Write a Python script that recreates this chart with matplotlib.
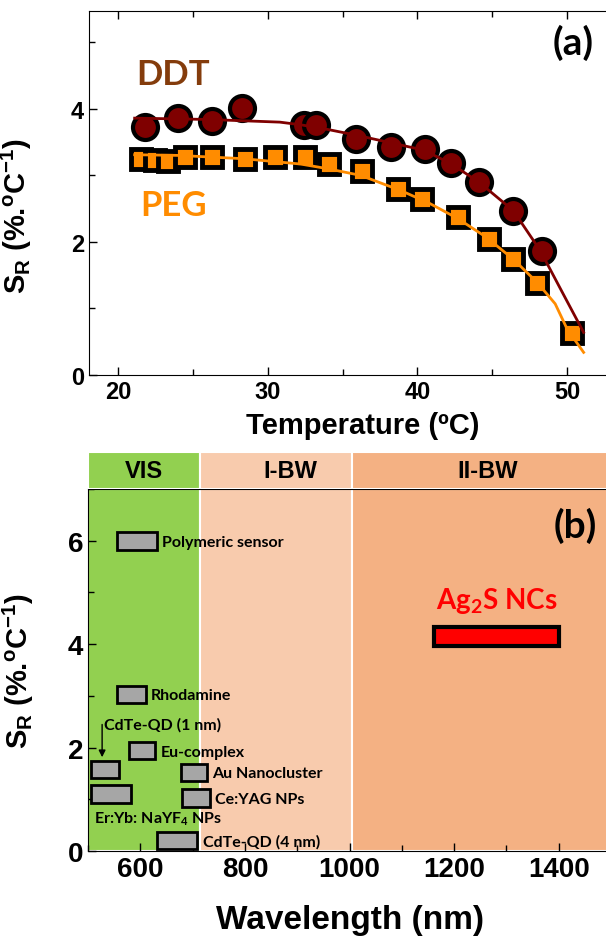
import matplotlib
matplotlib.use('Agg')
import matplotlib.pyplot as plt
from matplotlib.patches import Rectangle
from matplotlib.ticker import MultipleLocator

# ---------------------------------------------------------------- data (a)
ddt_T = [21.8, 24.0, 26.3, 28.3, 32.4, 33.25, 35.9, 38.25, 40.5, 42.25, 44.1, 46.4, 48.3]
ddt_S = [3.72, 3.86, 3.81, 4.01, 3.75, 3.76, 3.55, 3.42, 3.40, 3.18, 2.90, 2.47, 1.86]

peg_T = [21.55, 22.45, 23.35, 24.47, 26.3, 28.5, 30.45, 32.45, 34.07, 36.27,
         38.7, 40.27, 42.7, 44.8, 46.4, 48.0, 50.3]
peg_S = [3.25, 3.23, 3.22, 3.28, 3.28, 3.25, 3.28, 3.27, 3.17, 3.06,
         2.79, 2.65, 2.37, 2.04, 1.75, 1.38, 0.63]

ddt_fit_T = [21.1, 26.0, 30.8, 32.2, 34.0, 36.0, 38.0, 40.4, 42.2, 44.1, 46.4, 48.2, 49.8, 51.1]
ddt_fit_S = [3.86, 3.84, 3.80, 3.76, 3.69, 3.60, 3.50, 3.38, 3.18, 2.90, 2.47, 1.87, 1.19, 0.64]

peg_fit_T = [21.1, 24.0, 28.4, 32.2, 34.0, 36.2, 38.9, 40.8, 42.7, 44.6, 46.4, 48.0, 49.2, 50.0, 51.1]
peg_fit_S = [3.31, 3.30, 3.25, 3.17, 3.10, 3.00, 2.77, 2.58, 2.35, 2.07, 1.74, 1.39, 1.07, 0.69, 0.34]

# ---------------------------------------------------------------- data (b)
band_edges = [500, 715, 1004, 1500]
band_names = ['VIS', 'I-BW', 'II-BW']
band_label_x = [607, 887, 1265]

box_names = ['Polymeric sensor', 'Rhodamine', 'Eu-complex', '', '',
             'Au Nanocluster', 'Ce:YAG NPs', 'CdTe-QD (4 nm)']
box_lo = [556, 556, 578, 506, 506, 677, 680, 631]
box_hi = [631, 610, 629, 560, 582, 728, 733, 709]
box_S = [6.0, 3.03, 1.94, 1.58, 1.10, 1.52, 1.03, 0.20]

ag2s_lo, ag2s_hi, ag2s_S = 1162, 1401, 4.15

plt.rcParams['font.weight'] = 'bold'
plt.rcParams['axes.labelweight'] = 'bold'
plt.rcParams['mathtext.fontset'] = 'custom'
plt.rcParams['mathtext.rm'] = 'Liberation Sans:bold'
plt.rcParams['mathtext.bf'] = 'Liberation Sans:bold'
plt.rcParams['mathtext.default'] = 'bf'

ARIAL = ['Liberation Sans', 'DejaVu Sans']
NARROW = ['Liberation Sans Narrow', 'Liberation Sans', 'DejaVu Sans']
CALIBRI = ['Lato', 'DejaVu Sans']

W, H = 606, 945
fig = plt.figure(figsize=(W / 100, H / 100), dpi=100)

ylab = r'S$_\mathbf{R}$ (%.$^\mathbf{o}$C$^\mathbf{-1}$)'

# ---------------------------------------------------------------- panel (a)
ax = fig.add_axes([89 / W, 1 - 376 / H, (636 - 89) / W, (376 - 12) / H])
ax.plot(ddt_T, ddt_S, 'o', ms=18, mfc='#7f0000', mec='black', mew=3, zorder=3)
ax.plot(peg_T, peg_S, 's', ms=15, mfc='#ff8c00', mec='black', mew=3.5, zorder=3)
ax.plot(ddt_fit_T, ddt_fit_S, '-', color='#7f0000', lw=2, zorder=4)
ax.plot(peg_fit_T, peg_fit_S, '-', color='#ff8c00', lw=2, zorder=4)

ax.set_xlim(18.05, 54.6)
ax.set_ylim(0, 5.47)
ax.xaxis.set_major_locator(MultipleLocator(10))
ax.xaxis.set_minor_locator(MultipleLocator(5))
ax.yaxis.set_major_locator(MultipleLocator(2))
ax.yaxis.set_minor_locator(MultipleLocator(1))
ax.tick_params(which='both', direction='in', top=True, width=1, labelsize=17,
               labelfontfamily=NARROW)
ax.tick_params(which='major', length=6)
ax.tick_params(which='minor', length=4)

ax.text(23.7, 4.53, 'DDT', color='#843c0c', fontsize=25, family=CALIBRI,
        ha='center', va='center')
ax.text(23.7, 2.55, 'PEG', color='#ff8c00', fontsize=25, family=CALIBRI,
        ha='center', va='center')
ax.text(49.05, 5.0, '(a)', fontsize=28, family=CALIBRI, ha='left', va='center')

ax.set_xlabel('Temperature (ºC)', fontsize=21, family=ARIAL, labelpad=6)
ax.set_ylabel(ylab, fontsize=21, family=ARIAL)
ax.yaxis.set_label_coords(-0.1, 0.44)

# ---------------------------------------------------------------- panel (b)
bx = fig.add_axes([88 / W, 1 - 852 / H, (611 - 88) / W, (852 - 490) / H])
hdr = fig.add_axes([88 / W, 1 - 490 / H, (611 - 88) / W, (490 - 453) / H])
band_colors = ['#92d050', '#f8cbad', '#f4b183']

for a in (bx, hdr):
    for lo, hi, c in zip(band_edges[:-1], band_edges[1:], band_colors):
        a.axvspan(lo, hi, facecolor=c, edgecolor='white', lw=1.5, zorder=0)
    a.set_xlim(500, 1500)

hdr.set_ylim(0, 1)
hdr.axis('off')
for name, x in zip(band_names, band_label_x):
    hdr.text(x, 0.5, name, fontsize=17, family=ARIAL, ha='center', va='center')

for lo, hi, s, name in zip(box_lo, box_hi, box_S, box_names):
    bx.add_patch(Rectangle((lo, s - 0.17), hi - lo, 0.34, facecolor='#a6a6a6',
                           edgecolor='black', lw=2, zorder=3))
    if name:
        bx.text(hi + 10, s - 0.02, name, fontsize=11.5, family=CALIBRI,
                ha='left', va='center', zorder=4)

bx.text(531, 2.45, 'CdTe-QD (1 nm)', fontsize=11.5, family=CALIBRI,
        ha='left', va='center', zorder=4)
bx.annotate('', xy=(527, 1.76), xytext=(527, 2.5),
            arrowprops=dict(arrowstyle='-|>', color='black', lw=1, mutation_scale=10))
bx.text(512, 0.64, 'Er:Yb: NaYF$_\\mathregular{4}$ NPs', fontsize=11.5, family=CALIBRI,
        ha='left', va='center', zorder=4)

bx.add_patch(Rectangle((ag2s_lo, ag2s_S - 0.19), ag2s_hi - ag2s_lo, 0.38,
                       facecolor='#ff0000', edgecolor='black', lw=3, zorder=3))
bx.text((ag2s_lo + ag2s_hi) / 2, 4.85, 'Ag$_\\mathregular{2}$S NCs', color='#ff0000',
        fontsize=20, family=CALIBRI, ha='center', va='center')
bx.text(1390, 6.3, '(b)', fontsize=28, family=CALIBRI, ha='left', va='center')

bx.set_ylim(0, 7)
bx.set_xticks([600, 800, 1000, 1200, 1400])
bx.xaxis.set_minor_locator(MultipleLocator(100))
bx.yaxis.set_major_locator(MultipleLocator(2))
bx.yaxis.set_minor_locator(MultipleLocator(1))
bx.tick_params(which='both', direction='in', width=1, labelsize=20,
               labelfontfamily=NARROW)
bx.tick_params(which='major', length=6)
bx.tick_params(which='minor', length=4)
bx.set_xlabel('Wavelength (nm)', fontsize=24, family=ARIAL, labelpad=16)
bx.set_ylabel(ylab, fontsize=21, family=ARIAL)
bx.yaxis.set_label_coords(-0.1, 0.5)

fig.savefig('out.png', dpi=100)
